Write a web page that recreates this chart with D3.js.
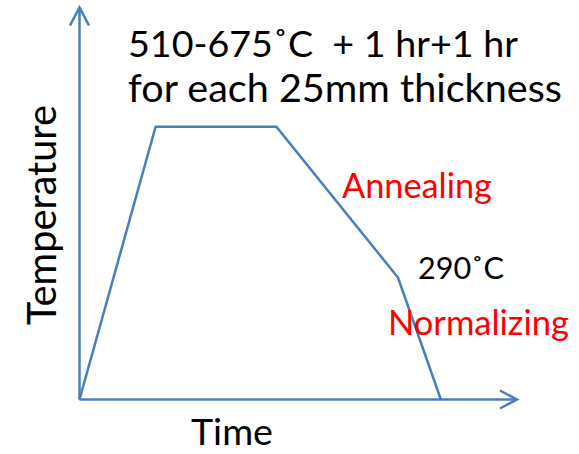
<!DOCTYPE html>
<html><head><meta charset="utf-8">
<script src="https://cdn.jsdelivr.net/npm/d3@7"></script>
<style>body{margin:0;background:#fff}svg{display:block}text{white-space:pre}</style>
</head><body>
<svg id="c" width="579" height="454"></svg>
<script>
// Data (arbitrary units: time 0-100, temperature 0-100)
const times = [0, 17.4, 45.0, 72.8, 82.6];
const temps = [0, 69.6, 69.6, 31.1, 0];
const topLabel = ["510-675˚C  + 1 hr+1 hr", "for each 25mm thickness"];
const axisLabels = {x: "Time", y: "Temperature"};
const annotations = ["Annealing", "290˚C", "Normalizing"];

const svg = d3.select("#c");
const x = d3.scaleLinear().domain([0, 100]).range([79.5, 517]);
const y = d3.scaleLinear().domain([0, 100]).range([399.5, 7.5]);
const blue = "#4a7ebb";
const font = "Lato, 'Open Sans', sans-serif";

// axes with open arrowheads
const g = svg.append("g").attr("fill", "none").attr("stroke", blue).attr("stroke-width", 2.5);
g.append("line").attr("x1", x(0)).attr("y1", y(0)).attr("x2", x(0)).attr("y2", y(100));
g.append("path").attr("d", `M${x(0)-9.5},${y(100)+18} L${x(0)},${y(100)} L${x(0)+9.5},${y(100)+18}`);
g.append("line").attr("x1", x(0)).attr("y1", y(0)).attr("x2", x(100)).attr("y2", y(0));
g.append("path").attr("d", `M${x(100)-17},${y(0)-9} L${x(100)},${y(0)} L${x(100)-17},${y(0)+9}`);

// profile line
const line = d3.line().x((d,i)=>x(times[i])).y((d,i)=>y(temps[i]));
svg.append("path").datum(times).attr("d", line).attr("fill","none")
  .attr("stroke", blue).attr("stroke-width", 2.5).attr("stroke-linejoin","miter");

// text with width fitting
function fitText(txt, xPos, yPos, width, fill, rotate) {
  const t = svg.append("text").attr("xml:space","preserve").text(txt).attr("font-family", font)
    .attr("font-size", 30).attr("fill", fill).attr("x", 0).attr("y", 0);
  const w = t.node().getComputedTextLength();
  t.attr("font-size", 30 * width / w);
  if (rotate) t.attr("transform", `translate(${xPos},${yPos}) rotate(-90)`);
  else t.attr("x", xPos).attr("y", yPos);
  return t;
}
fitText(topLabel[0], 128, 57, 390, "#000");
fitText(topLabel[1], 128, 102, 434, "#000");
fitText(axisLabels.x, 191, 445, 82, "#000");
fitText(axisLabels.y, 56, 325, 220, "#000", true);
fitText(annotations[0], 342, 198, 150, "#ff0000");
fitText(annotations[1], 418, 279, 86, "#000");
fitText(annotations[2], 388, 335, 181, "#ff0000");
</script>
</body></html>
